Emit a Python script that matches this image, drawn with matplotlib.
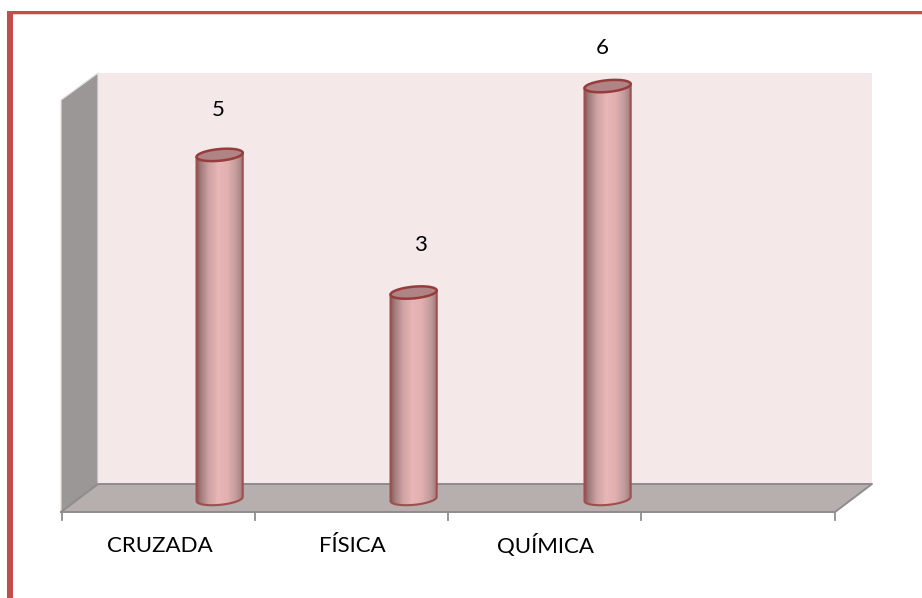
"""
Cylinder chart with a pseudo 3D wall and floor.
"""
import numpy as np
import matplotlib
matplotlib.use('Agg')
import matplotlib.pyplot as plt
from matplotlib.colors import LinearSegmentedColormap
from matplotlib.patches import PathPatch, Polygon, Rectangle
from matplotlib.path import Path

categories = ['CRUZADA', 'FÍSICA', 'QUÍMICA']
values = [5, 3, 6]

W, H = 922, 598
plt.rcParams['font.family'] = ['Lato', 'DejaVu Sans']

fig = plt.figure(figsize=(W / 100, H / 100), dpi=100)
fig.patch.set_facecolor('white')

# background layer in pixel units: frame, walls, floor, ticks
bg = fig.add_axes([0, 0, 1, 1])
bg.set_xlim(0, W)
bg.set_ylim(H, 0)
bg.axis('off')

bg.add_patch(Polygon([(98, 73), (872, 73), (872, 484), (98, 484)], fc='#f4e8e8', ec='none'))
bg.add_patch(Polygon([(61, 100), (98, 73), (98, 484), (61, 512)], fc='#9c9797', ec='none'))
bg.plot([61, 61, 98, 98], [512, 100, 73, 484], color='#e2e0e0', lw=0.9)
bg.add_patch(Polygon([(98, 484), (872, 484), (835, 512), (61, 512)], fc='#b7aeae', ec='none'))
bg.plot([61, 98, 872, 835, 61], [512, 484, 484, 512, 512], color='#8f8c8c', lw=1.4)
for x in [62, 255, 448, 641, 835]:
    bg.plot([x, x], [512, 520], color='#8f8c8c', lw=1.3)

# frame of the page box, left and top only
bg.add_patch(Rectangle((7, 11), 5.5, H, fc='#c0504d', ec='none'))
bg.add_patch(Rectangle((7, 11), W, 3.2, fc='#c0504d', ec='none'))
bg.add_patch(Rectangle((12.5, 14.2), W, 1, fc='#eccfce', ec='none'))

for x, name in zip([160, 352, 545], categories):
    bg.text(x, 546, name, ha='center', va='center', fontsize=16, color='black')

# data layer: one unit of x per category, y in value units
ax = fig.add_axes([98 / W, 1 - 499 / H, 774 / W, 426 / H])
ax.set_xlim(-0.627, 3.363)
ax.set_ylim(0, 6.19)
ax.axis('off')
ax.patch.set_alpha(0)

cyl_cmap = LinearSegmentedColormap.from_list('cyl', [
    (0.0, '#8a5e5e'), (0.08, '#a37c7c'), (0.25, '#cfa2a2'), (0.45, '#e8b6b6'),
    (0.65, '#e2b0b0'), (0.85, '#c09a9a'), (1.0, '#9c7676')])
grad = np.linspace(0, 1, 128).reshape(1, -1)

half_w = 0.119
b = 0.085
shear = 0.25
t = np.linspace(0, 2 * np.pi, 90)

# label offsets in points from the top of each bar
label_dx = [-1, 5, -3.5]
label_dy = [32, 34, 27.5]

for i, v in enumerate(values):
    # body outline: lower half of the base ellipse, then the top edge
    t_low = np.linspace(np.pi, 2 * np.pi, 40)
    bx = i + half_w * np.cos(t_low)
    by = b * np.sin(t_low) + shear * half_w * np.cos(t_low)
    tx = i + half_w * np.cos(t)
    ty = v + b * np.sin(t) + shear * half_w * np.cos(t)
    outline = np.vstack([np.column_stack([bx, by]),
                         [[i + half_w, v + shear * half_w]],
                         [[i - half_w, v - shear * half_w]],
                         [[bx[0], by[0]]]])
    body = PathPatch(Path(outline, closed=True), fc='none', ec='#a04e4e', lw=1.5,
                     zorder=3, clip_on=False)
    im = ax.imshow(grad, extent=[i - half_w, i + half_w, -0.2, v + 0.1], aspect='auto',
                   cmap=cyl_cmap, zorder=2, interpolation='bilinear')
    ax.add_patch(body)
    im.set_clip_path(body)
    im.set_clip_box(fig.bbox)
    ax.add_patch(Polygon(np.column_stack([tx, ty]), fc='#b08484', ec='#963c3c', lw=1.8,
                         zorder=4, clip_on=False))
    ax.annotate(str(v), (i, v), xytext=(label_dx[i], label_dy[i]), textcoords='offset points',
                ha='center', va='center', fontsize=16, color='black', annotation_clip=False)

ax.set_xlim(-0.627, 3.363)
ax.set_ylim(0, 6.19)

fig.savefig('out.png', dpi=100)
